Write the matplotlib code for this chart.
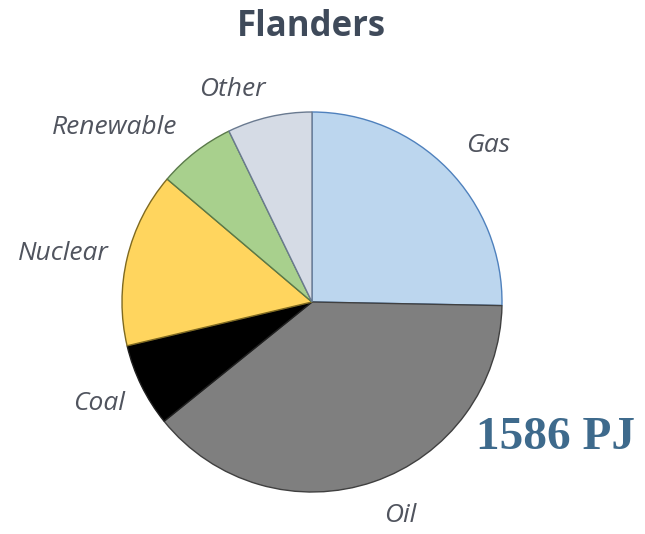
import matplotlib.pyplot as plt

# energy mix of Flanders (share of total, %)
sources = ["Gas", "Oil", "Coal", "Nuclear", "Renewable", "Other"]
shares = [25.3, 38.9, 7.1, 14.9, 6.6, 7.2]
colors = ["#bcd6ee", "#7f7f7f", "#000000", "#ffd55e", "#a8d08d", "#d5dbe5"]
edges = ["#4f81bd", "#404040", "#202020", "#7f6a20", "#5a7a4a", "#6a7a90"]
total_label = "1586 PJ"

# label positions in pixels (x, y from top)
label_pos = {
    "Gas": (488, 145),
    "Oil": (400, 515),
    "Coal": (99, 403),
    "Nuclear": (63, 253),
    "Renewable": (115, 127),
    "Other": (232, 90),
}

W, H = 645, 534
fig = plt.figure(figsize=(W / 100, H / 100), dpi=100)
ax = fig.add_axes([0, 0, 1, 1])

wedges, _ = ax.pie(shares, colors=colors, startangle=90, counterclock=False,
                   center=(312, H - 302), radius=190, frame=True,
                   wedgeprops=dict(linewidth=1.0))
for w, ec in zip(wedges, edges):
    w.set_edgecolor(ec)
ax.set_xlim(0, W)
ax.set_ylim(0, H)
ax.set_aspect("equal")
ax.axis("off")

for name in sources:
    x, y = label_pos[name]
    ax.text(x, H - y, name, ha="center", va="center", fontsize=19,
            style="italic", family="Open Sans", color="#50545e")

ax.text(311, H - 27, "Flanders", ha="center", va="center", fontsize=25,
        fontweight="bold", family="Open Sans", color="#3f4a5a")

ax.text(556, H - 438, total_label, ha="center", va="center", fontsize=34,
        fontweight="bold", family="Liberation Serif", color="#3e6a8c")

fig.savefig("out.png", dpi=100)
